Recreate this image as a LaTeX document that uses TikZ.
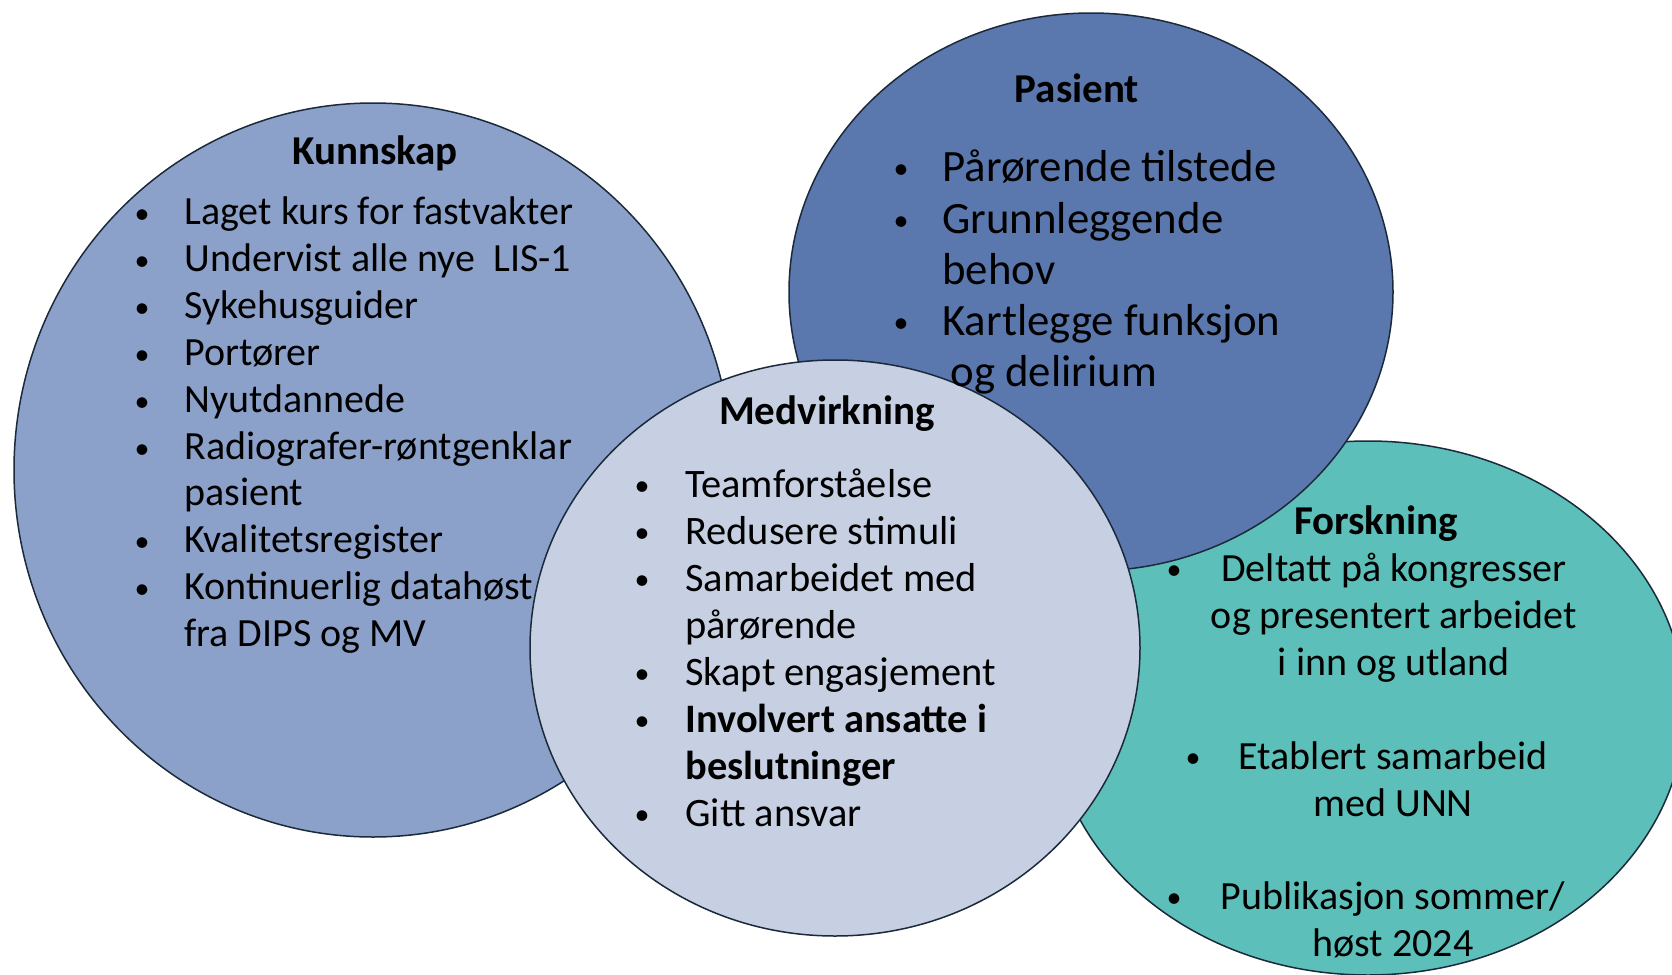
\documentclass[tikz,border=0pt]{standalone}
\usepackage{fontspec}
\setmainfont{Carlito}
\usetikzlibrary{shapes.geometric}
\newcommand\KunFont{\fontsize{20}{24}\selectfont}
\newcommand\PasFont{\fontsize{22.4}{26}\selectfont}
\newcommand\MedFont{\fontsize{20.2}{24}\selectfont}
\newcommand\ForFont{\fontsize{20}{24}\selectfont}
\newcommand\BulFont{\fontsize{15}{15}\selectfont}
\newcommand\HeadFont{\fontsize{20.5}{24}\selectfont\bfseries}
\definecolor{kcol}{HTML}{8CA1C9}
\definecolor{pcol}{HTML}{5B78AE}
\definecolor{mcol}{HTML}{C7D0E2}
\definecolor{fcol}{HTML}{5DBFB9}
\definecolor{edge}{HTML}{1B2A3A}
\tikzset{
  blob/.style={ellipse, draw=edge, line width=0.75pt, inner sep=0pt, outer sep=0pt},
  head/.style={anchor=base, font=\HeadFont, inner sep=0pt, text=black},
  kitem/.style={anchor=base west, font=\KunFont, inner sep=0pt},
  pitem/.style={anchor=base west, font=\PasFont, inner sep=0pt},
  mitem/.style={anchor=base west, font=\MedFont, inner sep=0pt},
  fitem/.style={anchor=base, font=\ForFont, inner sep=0pt},
  bul/.style={anchor=center, font=\BulFont, inner sep=0pt, yshift=-2.5pt},
}
\begin{document}
\begin{tikzpicture}[x=0.5pt,y=-0.5pt]
\useasboundingbox (0,0) rectangle (1672,975);
\clip (0,0) rectangle (1672,975);
\fill[white] (0,0) rectangle (1672,975);
% shapes
\node[blob, fill=kcol, minimum width=359pt, minimum height=367pt] (kunn) at (373,470) {};
\node[blob, fill=fcol, minimum width=317pt, minimum height=267pt] (fors) at (1368,708) {};
\node[blob, fill=pcol, minimum width=302pt, minimum height=279pt] (pas) at (1091,292) {};
\node[blob, fill=mcol, minimum width=305pt, minimum height=288pt] (med) at (835,648) {};
% Kunnskap
\node[head] (kh) at (375,164) {Kunnskap};
\node[bul] (kb0) at (142,212) {•}; \node[kitem] (k0) at (184,224) {Laget kurs for fastvakter};
\node[bul] (kb1) at (142,259) {•}; \node[kitem] (k1) at (184,271) {Undervist alle nye\ \ LIS-1};
\node[bul] (kb2) at (142,306) {•}; \node[kitem] (k2) at (184,318) {Sykehusguider};
\node[bul] (kb3) at (142,353) {•}; \node[kitem] (k3) at (184,365) {Portører};
\node[bul] (kb4) at (142,400) {•}; \node[kitem] (k4) at (184,412) {Nyutdannede};
\node[bul] (kb5) at (142,447) {•}; \node[kitem] (k5) at (184,459) {Radiografer-røntgenklar};
\node[kitem] (k6) at (184,505) {pasient};
\node[bul] (kb7) at (142,540) {•}; \node[kitem] (k7) at (184,552) {Kvalitetsregister};
\node[bul] (kb8) at (142,587) {•}; \node[kitem] (k8) at (184,599) {Kontinuerlig datahøst};
\node[kitem] (k9) at (184,646) {fra DIPS og MV};
% Pasient
\node[head] (ph) at (1077,102) {Pasient};
\node[bul] (pb0) at (901,167) {•}; \node[pitem] (p0) at (942,181) {Pårørende tilstede};
\node[bul] (pb1) at (901,219) {•}; \node[pitem] (p1) at (942,233) {Grunnleggende};
\node[pitem] (p2) at (942,284) {behov};
\node[bul] (pb3) at (901,321) {•}; \node[pitem] (p3) at (942,335) {Kartlegge funksjon};
\node[pitem] (p4) at (950,386) {og delirium};
% Medvirkning
\node[head] (mh) at (827,424) {Medvirkning};
\node[bul] (mb0) at (642,484) {•}; \node[mitem] (m0) at (685,497) {Teamforståelse};
\node[bul] (mb1) at (642,531) {•}; \node[mitem] (m1) at (685,544) {Redusere stimuli};
\node[bul] (mb2) at (642,578) {•}; \node[mitem] (m2) at (685,591) {Samarbeidet med};
\node[mitem] (m3) at (685,638) {pårørende};
\node[bul] (mb4) at (642,672) {•}; \node[mitem] (m4) at (685,685) {Skapt engasjement};
\node[bul] (mb5) at (642,719) {•}; \node[mitem] (m5) at (685,732) {\bfseries Involvert ansatte i};
\node[mitem] (m6) at (685,779) {\bfseries beslutninger};
\node[bul] (mb7) at (642,813) {•}; \node[mitem] (m7) at (685,826) {Gitt ansvar};
% Forskning
\node[head] (fh) at (1376,534) {Forskning};
\node[bul] (fb0) at (1174,568) {•}; \node[fitem] (f0) at (1394,581) {Deltatt på kongresser};
\node[fitem] (f1) at (1394,628) {og presentert arbeidet};
\node[fitem] (f2) at (1394,675) {i inn og utland};
\node[bul] (fb3) at (1193,756) {•}; \node[fitem] (f3) at (1393,769) {Etablert samarbeid};
\node[fitem] (f4) at (1393,816) {med UNN};
\node[bul] (fb5) at (1174,896) {•}; \node[fitem] (f5) at (1393,909) {Publikasjon sommer/};
\node[fitem] (f6) at (1393,956) {høst 2024};
\end{tikzpicture}
\end{document}
